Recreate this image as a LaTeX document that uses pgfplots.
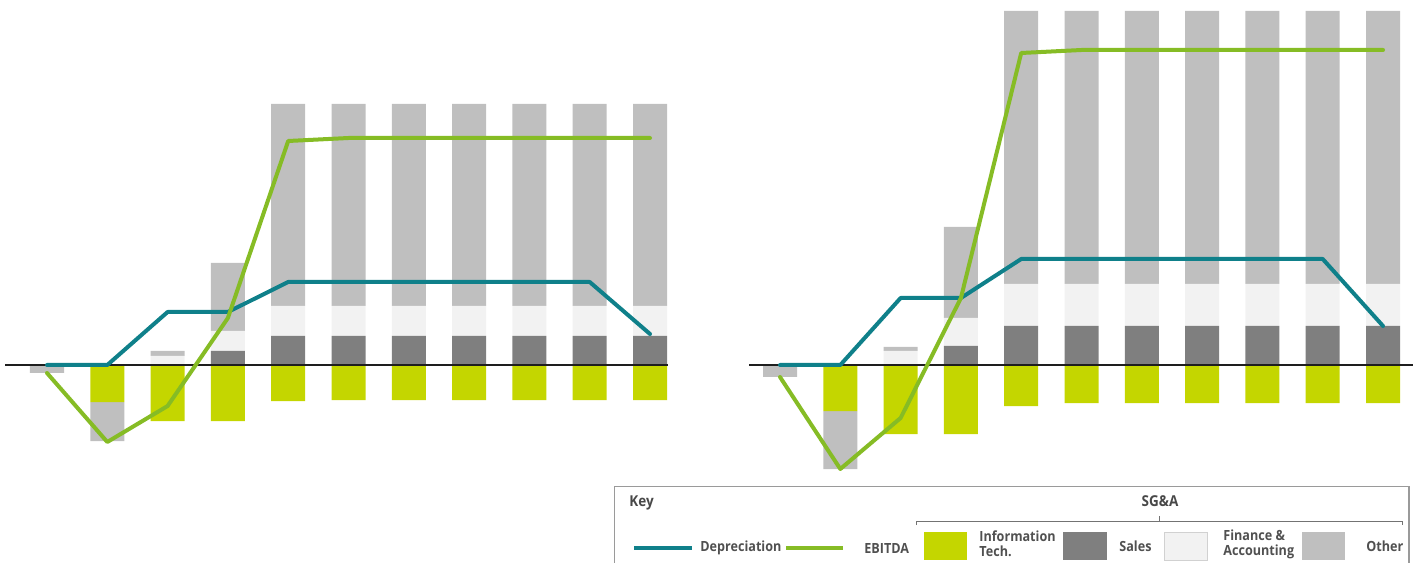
\documentclass[border=0pt]{standalone}
\usepackage{pgfplots}
\pgfplotsset{compat=1.18}
\usepackage{fontspec}
\setmainfont{Open Sans}[FakeStretch=0.9]
\definecolor{cIT}{HTML}{C4D600}
\definecolor{cSales}{HTML}{7F7F7F}
\definecolor{cFin}{HTML}{F2F2F2}
\definecolor{cOther}{HTML}{BFBFBF}
\definecolor{cDep}{HTML}{0F808A}
\definecolor{cEB}{HTML}{86BC25}
\definecolor{cTxt}{HTML}{505050}
\definecolor{cBox}{HTML}{9A9A9A}
\definecolor{cZero}{HTML}{1E1E1E}

\pgfplotsset{
  panel/.style={hide axis, clip=false, x=30.15pt, y=0.5pt,
    xmin=-0.8, xmax=10.6, ymin=-110, ymax=360, anchor=origin},
  barpanel/.style={panel, ybar stacked, bar width=17pt},
  seg/.style={fill=#1, draw=none},
}

% Left chart data
\pgfplotstableread{
x  IT   OtherNeg Sales Fin OtherPos Dep EBITDA
0   0    -8      0     0    0        0   -8
1  -37   -39     0     0    0        0   -77
2  -56   0       0     9    5        53  -41
3  -56   0       14    20   68       53  47
4  -36   0       29    30   202      83  224
5  -35   0       29    30   202      83  227
6  -35   0       29    30   202      83  227
7  -35   0       29    30   202      83  227
8  -35   0       29    30   202      83  227
9  -35   0       29    30   202      83  227
10 -35   0       29    30   202      31  227
}\leftdata

% Right chart data
\pgfplotstableread{
x  IT   OtherNeg Sales Fin OtherPos Dep EBITDA
0   0    -12     0     0    0        0   -12
1  -46   -58     0     0    0        0   -104
2  -69   0       0     14   4        67  -53
3  -69   0       19    28   91       67  67
4  -41   0       39    42   273      106 312
5  -38   0       39    42   273      106 315
6  -38   0       39    42   273      106 315
7  -38   0       39    42   273      106 315
8  -38   0       39    42   273      106 315
9  -38   0       39    42   273      106 315
10 -38   0       39    42   273      39  315
}\rightdata

\begin{document}
\begin{tikzpicture}
\path[use as bounding box] (0,0) rectangle (708pt,281pt);

% ===== Left chart =====
\begin{axis}[barpanel, at={(23.5pt,98.5pt)}]
\addplot[seg=cIT] table[x=x,y=IT] {\leftdata};
\addplot[seg=cOther] table[x=x,y=OtherNeg] {\leftdata};
\end{axis}
\begin{axis}[barpanel, at={(23.5pt,98.5pt)}]
\addplot[seg=cSales] table[x=x,y=Sales] {\leftdata};
\addplot[seg=cFin] table[x=x,y=Fin] {\leftdata};
\addplot[seg=cOther] table[x=x,y=OtherPos] {\leftdata};
\end{axis}
\begin{axis}[panel, at={(23.5pt,98.5pt)}]
\addplot[cZero, line width=1pt, mark=none] coordinates {(-0.69,0) (10.3,0)};
\addplot[cDep, line width=2pt, mark=none, line join=round, line cap=round] table[x=x,y=Dep] {\leftdata};
\addplot[cEB, line width=2pt, mark=none, line join=round, line cap=round] table[x=x,y=EBITDA] {\leftdata};
\end{axis}

% ===== Right chart =====
\begin{axis}[barpanel, at={(390pt,98.5pt)}]
\addplot[seg=cIT] table[x=x,y=IT] {\rightdata};
\addplot[seg=cOther] table[x=x,y=OtherNeg] {\rightdata};
\end{axis}
\begin{axis}[barpanel, at={(390pt,98.5pt)}]
\addplot[seg=cSales] table[x=x,y=Sales] {\rightdata};
\addplot[seg=cFin] table[x=x,y=Fin] {\rightdata};
\addplot[seg=cOther] table[x=x,y=OtherPos] {\rightdata};
\end{axis}
\begin{axis}[panel, at={(390pt,98.5pt)}]
\addplot[cZero, line width=1pt, mark=none] coordinates {(-0.51,0) (10.5,0)};
\addplot[cDep, line width=2pt, mark=none, line join=round, line cap=round] table[x=x,y=Dep] {\rightdata};
\addplot[cEB, line width=2pt, mark=none, line join=round, line cap=round] table[x=x,y=EBITDA] {\rightdata};
\end{axis}

% ===== Key =====
\begin{scope}[x=0.5pt, y=-0.5pt, shift={(0pt,281pt)},
  lbl/.style={anchor=west, inner sep=0pt, text=cTxt, font=\fontsize{7}{7.6}\selectfont\bfseries, align=left}]
\draw[cBox, line width=0.7pt] (614.5,580) -- (614.5,486.5) -- (1409,486.5) -- (1409,580);
\node[lbl, font=\fontsize{7.5}{9}\selectfont\bfseries, text=cTxt!90!black] at (629,503) {Key};
\node[inner sep=0pt, text=cTxt!90!black, font=\fontsize{7.5}{9}\selectfont\bfseries] at (1160,501) {SG\&A};
\draw[cTxt!80, line width=0.5pt] (916,525) -- (916,521) -- (1402,521) -- (1402,525);
\draw[cTxt!80, line width=0.5pt] (1159,521) -- (1159,516);
\draw[cDep, line width=2pt] (634,548) -- (692,548);
\node[lbl] at (700,548) {Depreciation};
\draw[cEB, line width=2pt] (786,548) -- (843,548);
\node[lbl] at (864,548) {EBITDA};
\fill[cIT] (924,532) rectangle (967,560);
\node[lbl] at (979,544) {Information\\Tech.};
\fill[cSales] (1063,532) rectangle (1107,560);
\node[lbl] at (1119,546) {Sales};
\filldraw[fill=cFin, draw=black!18, line width=0.5pt] (1164,532) rectangle (1207,560);
\node[lbl] at (1223,544) {Finance \&\\Accounting};
\fill[cOther] (1302,532) rectangle (1345,560);
\node[lbl] at (1366,546) {Other};
\end{scope}
\end{tikzpicture}
\end{document}
